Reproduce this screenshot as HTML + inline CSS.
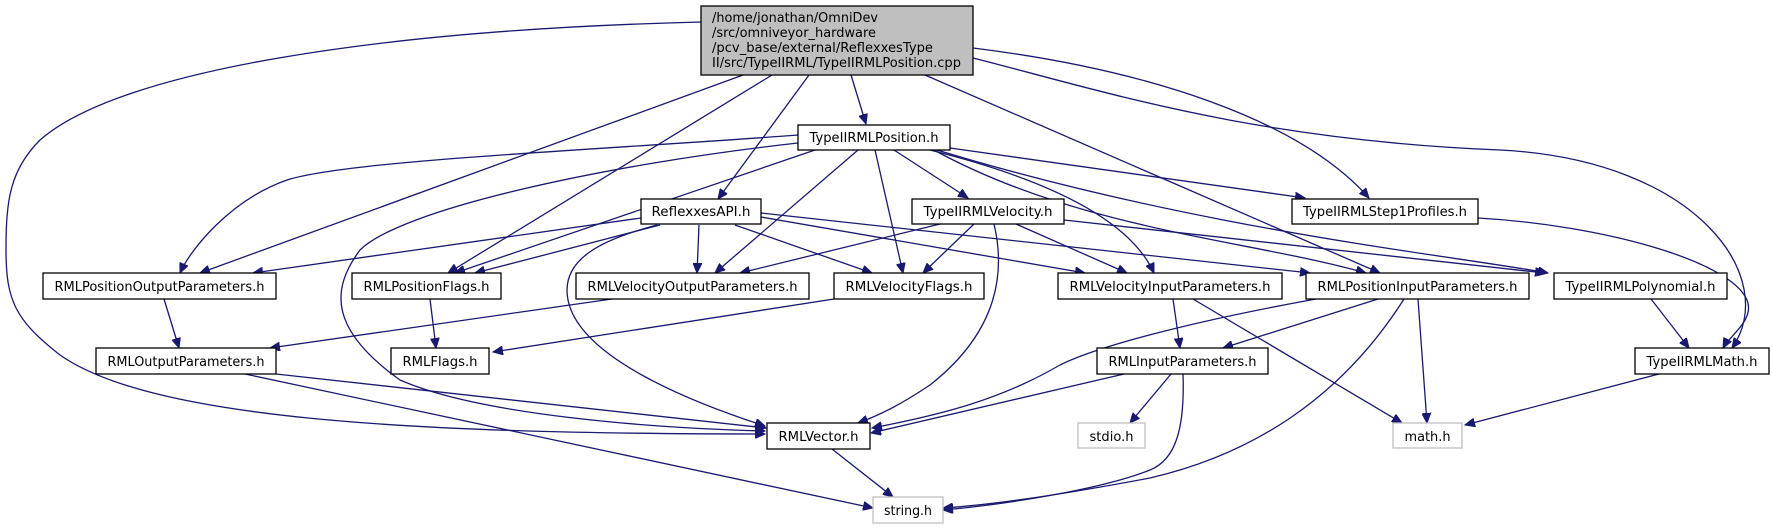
<!DOCTYPE html>
<html><head><meta charset="utf-8"><style>
html,body{margin:0;padding:0;background:#fff;}
svg{display:block;}
text{font-family:"DejaVu Sans","Liberation Sans",sans-serif;font-size:13px;fill:#000;}
.e{fill:none;stroke:#191970;stroke-width:1.3;marker-end:url(#a);}
.n{fill:#fff;stroke:#000;stroke-width:1.3;}
.g{fill:#fff;stroke:#bfbfbf;stroke-width:1.3;}
</style></head><body>
<svg width="1772" height="529" viewBox="0 0 1772 529" xmlns="http://www.w3.org/2000/svg">
<defs><marker id="a" markerUnits="userSpaceOnUse" markerWidth="11" markerHeight="9" refX="10" refY="4.5" orient="auto"><path d="M0,0 L10,4.5 L0,9 z" fill="#191970" stroke="#191970"/></marker></defs>

<!-- edges -->
<path class="e" d="M701,22 C380,30 120,70 40,140 C10,170 6,200 6,250 C6,300 15,320 60,355 C150,418 400,434 765,434"/>
<path class="e" d="M743,75 L200,273"/>
<path class="e" d="M772,75 L448,273"/>
<path class="e" d="M809,75 L718,199"/>
<path class="e" d="M851,75 L866,124"/>
<path class="e" d="M925,75 L1380,273"/>
<path class="e" d="M973,48 C1150,70 1300,120 1369,198"/>
<path class="e" d="M973,58 C1100,90 1250,140 1500,150 C1700,160 1780,280 1732,348"/>

<path class="e" d="M798,135 C600,150 350,160 287,180 C230,200 190,250 180,273"/>
<path class="e" d="M798,143 C600,165 400,210 360,250 C330,290 330,330 400,380 C480,415 650,428 765,431"/>
<path class="e" d="M815,150 L455,273"/>
<path class="e" d="M858,150 L715,273"/>
<path class="e" d="M875,150 L903,273"/>
<path class="e" d="M894,150 L968,198"/>
<path class="e" d="M930,150 C1050,180 1130,220 1154,273"/>
<path class="e" d="M934,150 C1080,230 1250,240 1366,273"/>
<path class="e" d="M937,150 C1200,230 1450,255 1548,273"/>
<path class="e" d="M950,148 L1305,198"/>

<path class="e" d="M641,218 L253,273"/>
<path class="e" d="M660,225 L475,273"/>
<path class="e" d="M657,225 C600,240 560,260 568,300 C580,360 700,405 765,426"/>
<path class="e" d="M699,225 L697,273"/>
<path class="e" d="M735,225 L872,273"/>
<path class="e" d="M761,217 L1085,273"/>
<path class="e" d="M761,213 L1310,273"/>

<path class="e" d="M940,224 L740,273"/>
<path class="e" d="M974,224 L923,273"/>
<path class="e" d="M994,224 C1005,270 1000,330 930,385 C900,405 880,415 858,423"/>
<path class="e" d="M1016,224 L1127,273"/>
<path class="e" d="M1064,220 L1545,273"/>

<path class="e" d="M1478,218 C1600,225 1730,260 1747,300 C1755,320 1730,335 1723,348"/>

<path class="e" d="M164,299 L179,348"/>
<path class="e" d="M430,299 L436,348"/>
<path class="e" d="M612,299 L270,348"/>
<path class="e" d="M834,299 L493,352"/>
<path class="e" d="M1173,299 L1180,348"/>
<path class="e" d="M1193,299 L1402,423"/>
<path class="e" d="M1316,299 C1200,320 1100,345 1060,365 C1000,400 940,415 872,428"/>
<path class="e" d="M1378,299 L1223,348"/>
<path class="e" d="M1404,299 C1340,400 1250,455 1150,478 C1060,495 990,505 943,508"/>
<path class="e" d="M1418,299 L1427,423"/>
<path class="e" d="M1651,299 L1689,348"/>
<path class="e" d="M276,374 L766,428"/>
<path class="e" d="M245,374 L873,508"/>
<path class="e" d="M1124,374 L871,433"/>
<path class="e" d="M1171,374 L1130,423"/>
<path class="e" d="M1183,374 C1185,430 1175,460 1150,470 C1100,490 1000,505 943,510"/>
<path class="e" d="M832,449 L893,497"/>
<path class="e" d="M1659,374 L1465,425"/>

<!-- nodes -->
<rect x="701" y="6" width="272" height="69" fill="#bfbfbf" stroke="#000" stroke-width="1.3"/>
<text x="712" y="22" textLength="166" lengthAdjust="spacingAndGlyphs">/home/jonathan/OmniDev</text>
<text x="712" y="37" textLength="164" lengthAdjust="spacingAndGlyphs">/src/omniveyor_hardware</text>
<text x="712" y="52" textLength="221" lengthAdjust="spacingAndGlyphs">/pcv_base/external/ReflexxesType</text>
<text x="712" y="67" textLength="249" lengthAdjust="spacingAndGlyphs">II/src/TypeIIRML/TypeIIRMLPosition.cpp</text>

<g text-anchor="middle">
<rect class="n" x="798" y="125" width="152" height="25"/><text x="874" y="142" textLength="129" lengthAdjust="spacingAndGlyphs">TypeIIRMLPosition.h</text>
<rect class="n" x="641" y="199" width="120" height="25"/><text x="701" y="216" textLength="99" lengthAdjust="spacingAndGlyphs">ReflexxesAPI.h</text>
<rect class="n" x="912" y="199" width="152" height="25"/><text x="988" y="216" textLength="129" lengthAdjust="spacingAndGlyphs">TypeIIRMLVelocity.h</text>
<rect class="n" x="1292" y="199" width="186" height="25"/><text x="1385" y="216" textLength="164" lengthAdjust="spacingAndGlyphs">TypeIIRMLStep1Profiles.h</text>

<rect class="n" x="43" y="273" width="233" height="26"/><text x="159.5" y="291" textLength="210" lengthAdjust="spacingAndGlyphs">RMLPositionOutputParameters.h</text>
<rect class="n" x="352" y="273" width="149" height="26"/><text x="426.5" y="291" textLength="126" lengthAdjust="spacingAndGlyphs">RMLPositionFlags.h</text>
<rect class="n" x="576" y="273" width="233" height="26"/><text x="692.5" y="291" textLength="210" lengthAdjust="spacingAndGlyphs">RMLVelocityOutputParameters.h</text>
<rect class="n" x="834" y="273" width="150" height="26"/><text x="909" y="291" textLength="127" lengthAdjust="spacingAndGlyphs">RMLVelocityFlags.h</text>
<rect class="n" x="1058" y="273" width="224" height="26"/><text x="1170" y="291" textLength="201" lengthAdjust="spacingAndGlyphs">RMLVelocityInputParameters.h</text>
<rect class="n" x="1306" y="273" width="223" height="26"/><text x="1417.5" y="291" textLength="200" lengthAdjust="spacingAndGlyphs">RMLPositionInputParameters.h</text>
<rect class="n" x="1554" y="273" width="173" height="26"/><text x="1640.5" y="291" textLength="150" lengthAdjust="spacingAndGlyphs">TypeIIRMLPolynomial.h</text>

<rect class="n" x="96" y="348" width="180" height="26"/><text x="186" y="366" textLength="157" lengthAdjust="spacingAndGlyphs">RMLOutputParameters.h</text>
<rect class="n" x="391" y="348" width="98" height="26"/><text x="440" y="366" textLength="75" lengthAdjust="spacingAndGlyphs">RMLFlags.h</text>
<rect class="n" x="1097" y="348" width="171" height="26"/><text x="1182.5" y="366" textLength="148" lengthAdjust="spacingAndGlyphs">RMLInputParameters.h</text>
<rect class="n" x="1635" y="348" width="134" height="26"/><text x="1702" y="366" textLength="111" lengthAdjust="spacingAndGlyphs">TypeIIRMLMath.h</text>

<rect class="n" x="767" y="423" width="103" height="26"/><text x="818.5" y="441" textLength="80" lengthAdjust="spacingAndGlyphs">RMLVector.h</text>
<rect class="g" x="1078" y="423" width="67" height="25"/><text x="1111.5" y="441" textLength="44" lengthAdjust="spacingAndGlyphs">stdio.h</text>
<rect class="g" x="1393" y="423" width="69" height="25"/><text x="1427.5" y="441" textLength="46" lengthAdjust="spacingAndGlyphs">math.h</text>
<rect class="g" x="873" y="497" width="70" height="26"/><text x="908" y="515" textLength="48" lengthAdjust="spacingAndGlyphs">string.h</text>
</g>
</svg>
</body></html>
